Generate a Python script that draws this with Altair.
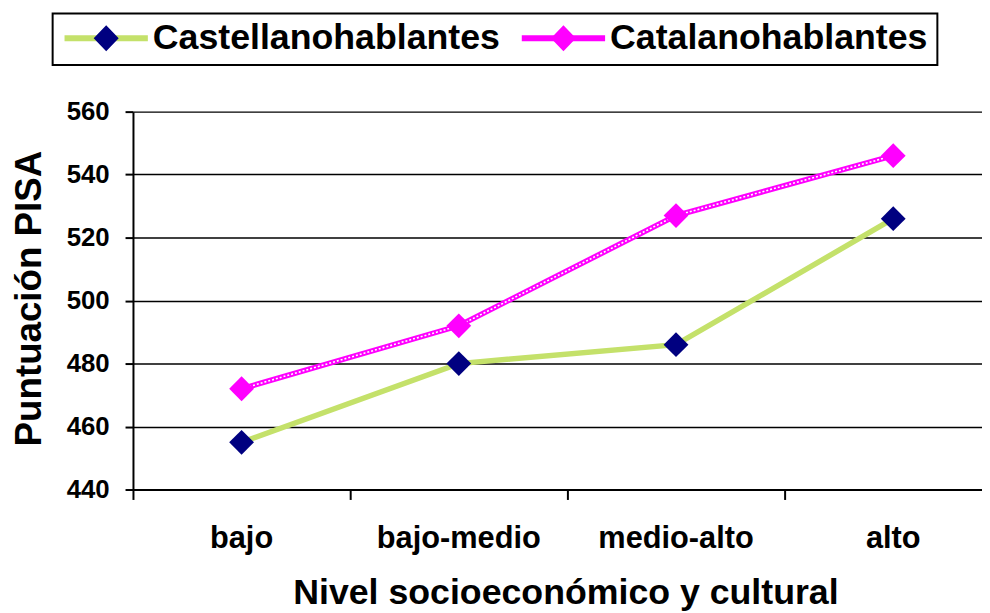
import altair as alt
import pandas as pd

niveles = ["bajo", "bajo-medio", "medio-alto", "alto"]
series = ["Castellanohablantes", "Catalanohablantes"]
castellano = [455, 480, 486, 526]
catalan = [472, 492, 527, 546]
y_ticks = [440, 460, 480, 500, 520, 540, 560]

line_colors = ["#C4E16A", "#FF00FF"]
marker_colors = ["#000080", "#FF00FF"]

rows = []
for s, vals in zip(series, [castellano, catalan]):
    for n, v in zip(niveles, vals):
        rows.append({"nivel": n, "serie": s, "serie_m": s, "puntuacion": v})
df = pd.DataFrame(rows)

FONT = "Liberation Sans"

x_enc = alt.X(
    "nivel:N",
    sort=niveles,
    scale=alt.Scale(type="band", domain=niveles, range=[0, 876], paddingInner=0, paddingOuter=0),
    title="Nivel socioeconómico y cultural",
    axis=alt.Axis(
        bandPosition=0, labelAngle=0,
        tickSize=10, tickWidth=2, tickColor="black",
        domainColor="black", domainWidth=2, grid=False,
        labelFont=FONT, labelFontSize=31, labelFontWeight="bold", labelColor="black",
        labelBaseline="alphabetic", labelPadding=48,
        titleFont=FONT, titleFontSize=36, titleFontWeight="bold", titleColor="black",
        titleX=436, titleY=115, titleBaseline="alphabetic", titleAlign="center",
    ),
)
y_enc = alt.Y(
    "puntuacion:Q",
    scale=alt.Scale(domain=[440, 560], nice=False, zero=False),
    title="Puntuación PISA",
    axis=alt.Axis(
        values=y_ticks, tickSize=8, tickWidth=2, tickColor="black",
        domainColor="black", domainWidth=2,
        grid=True, gridColor="black", gridWidth=1.5,
        labelFont=FONT, labelFontSize=26, labelFontWeight="bold", labelColor="black",
        labelPadding=16,
        titleFont=FONT, titleFontSize=37, titleFontWeight="bold", titleColor="black",
        titleX=-93, titleY=188, titleBaseline="alphabetic", titleAlign="center", titleAngle=270,
    ),
)

legend_common = dict(
    title=None, orient="none", legendX=-81, legendY=-99, direction="horizontal",
    symbolSize=7056, labelFont=FONT, labelFontSize=36, labelFontWeight="bold",
    labelColor="black", labelOffset=2, columnPadding=18, padding=9, clipHeight=32,
    labelLimit=0,
)

lines = alt.Chart(df).mark_line(strokeWidth=5.5).encode(
    x=x_enc, y=y_enc,
    color=alt.Color(
        "serie:N",
        scale=alt.Scale(domain=series, range=line_colors),
        legend=alt.Legend(
            symbolType="M-1,0L1,0", symbolStrokeWidth=6, strokeColor="black",
            fillColor="white", zindex=0, **legend_common,
        ),
    ),
)

dashes = alt.Chart(df).transform_filter(
    alt.datum.serie == "Catalanohablantes"
).mark_line(strokeWidth=1.6, strokeDash=[2, 2], color="white").encode(x=x_enc, y=y_enc)

points = alt.Chart(df).mark_point(filled=True, shape="diamond", size=625, opacity=1).encode(
    x=x_enc, y=y_enc,
    fill=alt.Fill(
        "serie_m:N",
        scale=alt.Scale(range=marker_colors),
        legend=alt.Legend(
            symbolType="M-1,0L-0.99,0M-0.3,0L0,-0.31L0.3,0L0,0.31ZM0.99,0L1,0",
            symbolStrokeWidth=6, symbolStrokeColor="transparent", symbolOpacity=1,
            labelOpacity=0, zindex=1, **legend_common,
        ),
    ),
)

chart = alt.layer(lines, dashes, points).properties(
    width=856, height=381,
    autosize=alt.AutoSizeParams(type="none"),
    padding={"left": 126, "top": 102, "right": 0, "bottom": 122},
    background="white",
).configure_view(stroke=None).configure_legend(strokeWidth=2)

chart.save("out.html", embed_options={"renderer": "svg", "actions": False})
